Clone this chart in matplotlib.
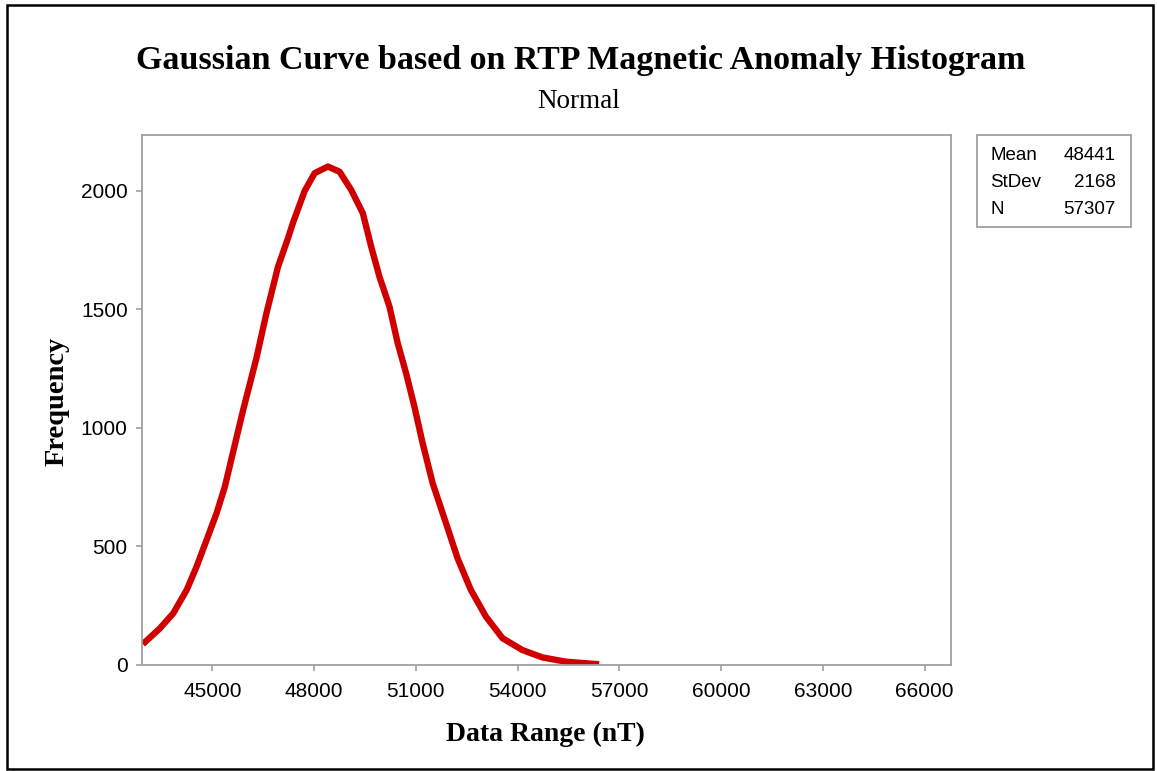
import matplotlib
matplotlib.use("Agg")
import matplotlib.pyplot as plt
from matplotlib.patches import Rectangle

# Data
data_range = [42950, 43456, 43847, 44241, 44535, 44829, 45124, 45368, 45612,
              45906, 46300, 46594, 46935, 47229, 47377, 47721, 48015, 48407,
              48750, 49094, 49436, 49682, 49926, 50221, 50465, 50711, 50956,
              51200, 51494, 51888, 52229, 52623, 53065, 53553, 54141, 54729,
              55418, 56400]
frequency = [88, 155, 218, 316, 415, 527, 640, 752, 899,
             1075, 1295, 1484, 1680, 1800, 1866, 2000, 2075, 2103,
             2081, 2004, 1906, 1765, 1638, 1512, 1357, 1231, 1090,
             935, 767, 598, 450, 316, 204, 113, 63, 32,
             14, 3]
x_ticks = [45000, 48000, 51000, 54000, 57000, 60000, 63000, 66000]
y_ticks = [0, 500, 1000, 1500, 2000]
stats_labels = ["Mean", "StDev", "N"]
stats_values = ["48441", "2168", "57307"]

W, H = 1157, 771
fig = plt.figure(figsize=(W / 100, H / 100), dpi=100)
fig.patch.set_facecolor("white")

serif = ["Liberation Serif", "DejaVu Serif"]
sans = ["Liberation Sans", "DejaVu Sans"]
gray = "#a0a0a0"

ax = fig.add_axes([142.3 / W, 1 - 665 / H, (950.7 - 142.3) / W, (665 - 135) / H])
ax.plot(data_range, frequency, color="#d10000", lw=4.6, solid_capstyle="butt",
        solid_joinstyle="round")
ax.set_xlim(42935, 66765)
ax.set_ylim(0, 2236)
ax.set_xticks(x_ticks)
ax.set_yticks(y_ticks)
ax.tick_params(axis="both", direction="out", length=4, width=1.2, color=gray,
               labelsize=15)
ax.tick_params(axis="x", pad=8)
ax.tick_params(axis="y", pad=6.5)
for lab in ax.get_xticklabels() + ax.get_yticklabels():
    lab.set_fontfamily(sans)
for s in ax.spines.values():
    s.set_color(gray)
    s.set_linewidth(1.3)

fig.text(581 / W, 1 - 61 / H,
         "Gaussian Curve based on RTP Magnetic Anomaly Histogram",
         ha="center", va="center", fontsize=24.5, fontweight="bold", family=serif)
fig.text(579 / W, 1 - 102 / H, "Normal", ha="center", va="center",
         fontsize=19.5, family=serif)
fig.text(545 / W, 1 - 734 / H, "Data Range (nT)", ha="center", va="center",
         fontsize=20, fontweight="bold", family=serif)
fig.text(57 / W, 1 - 401 / H, "Frequency", ha="center", va="center",
         rotation=90, fontsize=20.5, fontweight="bold", family=serif)

# stats box
fig.patches.append(Rectangle((976.7 / W, 1 - 226.7 / H), (1130.7 - 976.7) / W,
                             (226.7 - 135) / H, transform=fig.transFigure,
                             fill=False, edgecolor=gray, lw=1.3))
for i, (lab, val) in enumerate(zip(stats_labels, stats_values)):
    y = 1 - (155 + 27.5 * i) / H
    fig.text(990 / W, y, lab, ha="left", va="center", fontsize=13.5, family=sans)
    fig.text(1116 / W, y, val, ha="right", va="center", fontsize=13.5, family=sans)

# outer frame
fig.patches.append(Rectangle((7 / W, 1 - 769 / H), (1152.5 - 7) / W, (769 - 5) / H,
                             transform=fig.transFigure, fill=False,
                             edgecolor="black", lw=1.8))

fig.savefig("out.png", dpi=100)
